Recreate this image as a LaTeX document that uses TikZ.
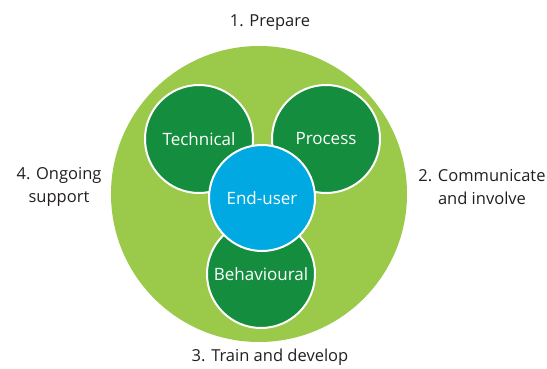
\documentclass[tikz,border=0pt]{standalone}
\usepackage{fontspec}
\setmainfont{Open Sans}
\definecolor{lightgreen}{RGB}{155,201,74}
\definecolor{darkgreen}{RGB}{20,142,62}
\definecolor{enduserblue}{RGB}{0,169,226}
\definecolor{labelgray}{RGB}{35,31,32}
\tikzset{
  outerring/.style={circle, fill=lightgreen, minimum size=296pt, inner sep=0pt},
  areacircle/.style={circle, fill=darkgreen, draw=white, line width=2pt, minimum size=108pt, inner sep=0pt, text=white, font=\fontsize{17}{20}\selectfont},
  usercircle/.style={areacircle, fill=enduserblue, minimum size=106pt},
  steplabel/.style={text=labelgray, align=center, font=\fontsize{16.5}{23}\selectfont, inner sep=0pt}
}
\begin{document}
\begin{tikzpicture}[x=1pt,y=-1pt]
\useasboundingbox (0,0) rectangle (547,369);
\node[outerring] (ring) at (259,194) {};
\node[areacircle] (technical) at (199,139) {Technical};
\node[areacircle] (process) at (326,139) {Process};
\node[areacircle] (behavioural) at (261,274) {Behavioural};
\node[usercircle] (enduser) at (262,198) {End-user};
\node[steplabel] (prepare) at (270,23) {1. Prepare};
\node[steplabel] (communicate) at (482,187) {2. Communicate\\and involve};
\node[steplabel] (train) at (270,357) {3. Train and develop};
\node[steplabel] (ongoing) at (59,187) {4. Ongoing\\support};
\end{tikzpicture}
\end{document}
